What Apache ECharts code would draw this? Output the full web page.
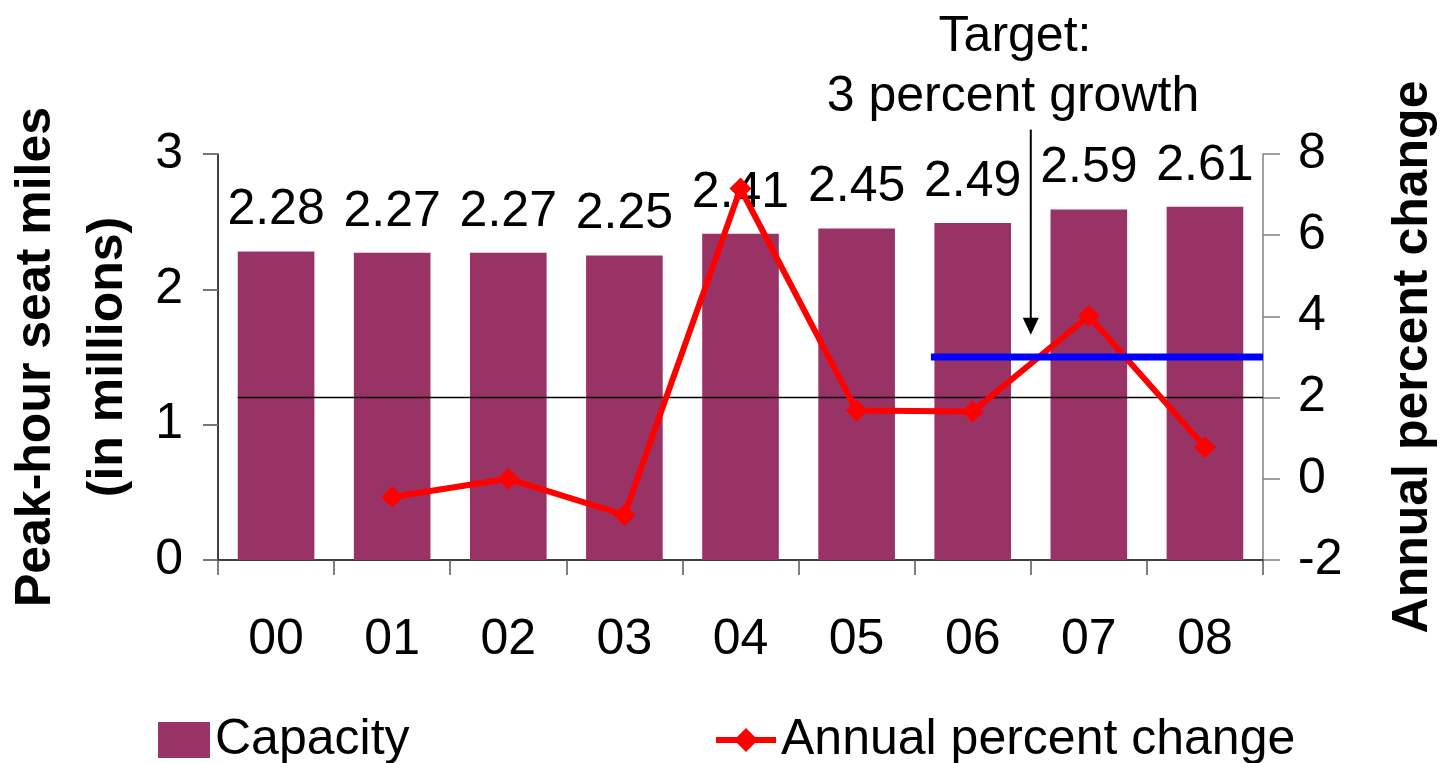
<!DOCTYPE html>
<html>
<head>
<meta charset="utf-8">
<script src="https://cdn.jsdelivr.net/npm/echarts@6/dist/echarts.min.js"></script>
<style>html,body{margin:0;padding:0;background:#fff}#c{width:1451px;height:763px}</style>
</head>
<body>
<div id="c"></div>
<script>
const categories = ['00','01','02','03','04','05','06','07','08'];
const capacity = [2.28, 2.27, 2.27, 2.25, 2.41, 2.45, 2.49, 2.59, 2.61];
const pctChange = ['-', -0.45, 0.0, -0.89, 7.15, 1.68, 1.66, 4.01, 0.78];
const leftTicks = [0, 1, 2, 3];
const rightTicks = [-2, 0, 2, 4, 6, 8];
const referenceValue = 2;
const targetValue = 3;
const refStart = -0.33, refEnd = 8.5;
const targetStart = 5.64, targetEnd = 8.5;
const arrowX = 6.5, arrowTop = 8.6, arrowHead = 3.76;

const FONT = 'Liberation Sans, Arial, sans-serif';
const chart = echarts.init(document.getElementById('c'));
chart.setOption({
  animation: false,
  textStyle: { fontFamily: FONT, color: '#000' },
  grid: { left: 218, right: 188, top: 154, bottom: 203, containLabel: false, outerBoundsMode: 'none' },
  xAxis: [{
    type: 'category', data: categories, boundaryGap: true,
    axisLine: { onZero: false, lineStyle: { color: '#000', width: 1.5 } },
    axisTick: { show: true, length: 15, interval: 0, lineStyle: { color: '#555', width: 1.5 } },
    axisLabel: { fontSize: 50, color: '#000', margin: 55, fontFamily: FONT, interval: 0 }
  }, {
    type: 'value', min: -0.5, max: 8.5, show: false
  }],
  yAxis: [{
    type: 'value', min: leftTicks[0], max: leftTicks[leftTicks.length-1], interval: 1,
    position: 'left',
    splitLine: { show: false },
    axisLine: { show: true, onZero: false, lineStyle: { color: '#000', width: 1.5 } },
    axisTick: { show: true, length: 15, lineStyle: { color: '#777', width: 2 } },
    axisLabel: { fontSize: 50, color: '#000', margin: 35, fontFamily: FONT },
    name: 'Peak-hour seat miles\n(in millions)', nameLocation: 'middle', nameRotate: 90, nameGap: 47,
    nameTextStyle: { fontSize: 50, fontWeight: 'bold', color: '#000', lineHeight: 72, fontFamily: FONT }
  }, {
    type: 'value', min: rightTicks[0], max: rightTicks[rightTicks.length-1], interval: 2,
    position: 'right',
    splitLine: { show: false },
    axisLine: { show: true, onZero: false, lineStyle: { color: '#808080', width: 1.5 } },
    axisTick: { show: true, length: 17, lineStyle: { color: '#808080', width: 1.5 } },
    axisLabel: { fontSize: 50, color: '#000', margin: 35, fontFamily: FONT },
    name: 'Annual percent change', nameLocation: 'middle', nameRotate: 90, nameGap: 125,
    nameTextStyle: { fontSize: 50, fontWeight: 'bold', color: '#000', fontFamily: FONT }
  }],
  legend: [{
    data: [{ name: 'Capacity', icon: 'rect' }], left: 153, top: 710,
    itemWidth: 52, itemHeight: 36, itemGap: 0,
    textStyle: { fontSize: 50, color: '#000', fontFamily: FONT }
  }, {
    data: ['Annual percent change'], left: 708, top: 710,
    itemWidth: 60, itemHeight: 30, itemGap: 0,
    lineStyle: { width: 6, color: '#ff0000' },
    textStyle: { fontSize: 50, color: '#000', fontFamily: FONT }
  }],
  graphic: [
    { type: 'text', style: { text: 'Target:', x: 1015, y: 37, textAlign: 'center', textVerticalAlign: 'middle', font: '50px ' + FONT, fill: '#000' }, z: 100 },
    { type: 'text', style: { text: '3 percent growth', x: 1013, y: 97, textAlign: 'center', textVerticalAlign: 'middle', font: '50px ' + FONT, fill: '#000' }, z: 100 }
  ],
  series: [{
    name: 'Capacity', type: 'bar', data: capacity, barCategoryGap: '34%',
    itemStyle: { color: '#993366' }, z: 2,
    label: { show: true, position: 'top', distance: 16, fontSize: 50, color: '#000', fontFamily: FONT,
      formatter: p => p.value.toFixed(2) }
  }, {
    name: 'ref', type: 'line', xAxisIndex: 1, yAxisIndex: 1, silent: true, symbol: 'none',
    data: [[refStart, referenceValue], [refEnd, referenceValue]],
    lineStyle: { color: '#000', width: 1.5 }, z: 3
  }, {
    name: 'Annual percent change', type: 'line', yAxisIndex: 1, data: pctChange,
    symbol: 'diamond', symbolSize: 22, showAllSymbol: true,
    lineStyle: { color: '#ff0000', width: 6 }, itemStyle: { color: '#ff0000' }, z: 4
  }, {
    name: 'target', type: 'line', xAxisIndex: 1, yAxisIndex: 1, silent: true, symbol: 'none',
    data: [[targetStart, targetValue], [targetEnd, targetValue]],
    lineStyle: { color: '#0000ff', width: 7 }, z: 5
  }, {
    name: 'arrow', type: 'line', xAxisIndex: 1, yAxisIndex: 1, silent: true, clip: false,
    data: [[arrowX, arrowTop], [arrowX, arrowHead]],
    symbol: (v, p) => p.dataIndex === 1 ? 'triangle' : 'none',
    symbolRotate: 180, symbolSize: [16, 17], showAllSymbol: true,
    itemStyle: { color: '#000' },
    lineStyle: { color: '#000', width: 2 }, z: 6
  }]
});
</script>
</body>
</html>
